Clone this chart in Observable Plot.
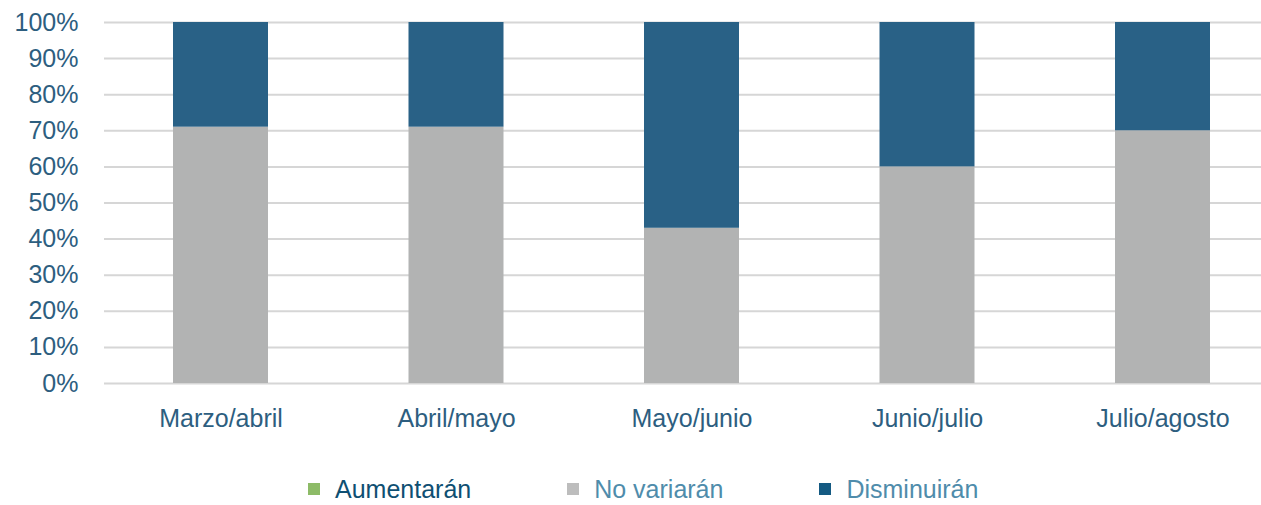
<!DOCTYPE html>
<html>
<head>
<meta charset="utf-8">
<script src="https://cdn.jsdelivr.net/npm/d3@7"></script>
<script src="https://cdn.jsdelivr.net/npm/@observablehq/plot@0.6"></script>
<style>
  html, body { margin: 0; padding: 0; background: #fff; }
  body { width: 1261px; font-family: "Liberation Sans", Arial, sans-serif; }
  #chart svg { display: block; }
  #legend { display: flex; align-items: center; gap: 96px; margin-left: 308px; margin-top: 38px; font-size: 25px; line-height: 22px; }
  .item { display: flex; align-items: center; }
  .sw { width: 12px; height: 12px; margin-right: 15px; }
</style>
</head>
<body>
<div id="chart"></div>
<div id="legend"></div>
<script>
const categories = ["Marzo/abril", "Abril/mayo", "Mayo/junio", "Junio/julio", "Julio/agosto"];
const series = ["Aumentarán", "No variarán", "Disminuirán"];
const aumentaran = [0, 0, 0, 0, 0];
const noVariaran = [71, 71, 43, 60, 70];
const disminuiran = [29, 29, 57, 40, 30];
const yTicks = [0, 10, 20, 30, 40, 50, 60, 70, 80, 90, 100];

const barColors = ["#8dbb67", "#b2b3b3", "#296186"];
const legendSwatch = ["#8dbb67", "#bdbdbd", "#145a82"];
const legendText = ["#0f4f72", "#4f8cab", "#4f8cab"];

const valuesBySeries = [aumentaran, noVariaran, disminuiran];
const data = [];
series.forEach((s, si) => {
  categories.forEach((c, ci) => {
    data.push({category: c, series: s, value: valuesBySeries[si][ci]});
  });
});

const chart = Plot.plot({
  width: 1261,
  height: 440,
  marginTop: 22,
  marginBottom: 57,
  marginLeft: 104,
  marginRight: 0,
  style: {fontFamily: "'Liberation Sans', Arial, sans-serif", fontSize: "25px", color: "#2d5e7f", background: "#fff"},
  x: {domain: categories, range: [104, 1279], paddingInner: 0.5966, paddingOuter: 0.293, round: false, label: null},
  y: {domain: [0, 100], label: null},
  color: {domain: series, range: barColors},
  marks: [
    Plot.ruleY(yTicks, {stroke: "#d6d6d6", strokeWidth: 2}),
    Plot.barY(data, {x: "category", y: "value", fill: "series", order: series}),
    Plot.axisY({ticks: yTicks, tickFormat: d => d + "%", tickSize: 0, tickPadding: 26, fill: "#2d5e7f", fontSize: 25, label: null}),
    Plot.axisX({tickSize: 0, tickPadding: 26, fill: "#2d5e7f", fontSize: 25, label: null})
  ]
});
document.getElementById("chart").appendChild(chart);

const legend = document.getElementById("legend");
series.forEach((s, i) => {
  const item = document.createElement("div");
  item.className = "item";
  const sw = document.createElement("span");
  sw.className = "sw";
  sw.style.background = legendSwatch[i];
  const t = document.createElement("span");
  t.textContent = s;
  t.style.color = legendText[i];
  item.appendChild(sw);
  item.appendChild(t);
  legend.appendChild(item);
});
</script>
</body>
</html>
